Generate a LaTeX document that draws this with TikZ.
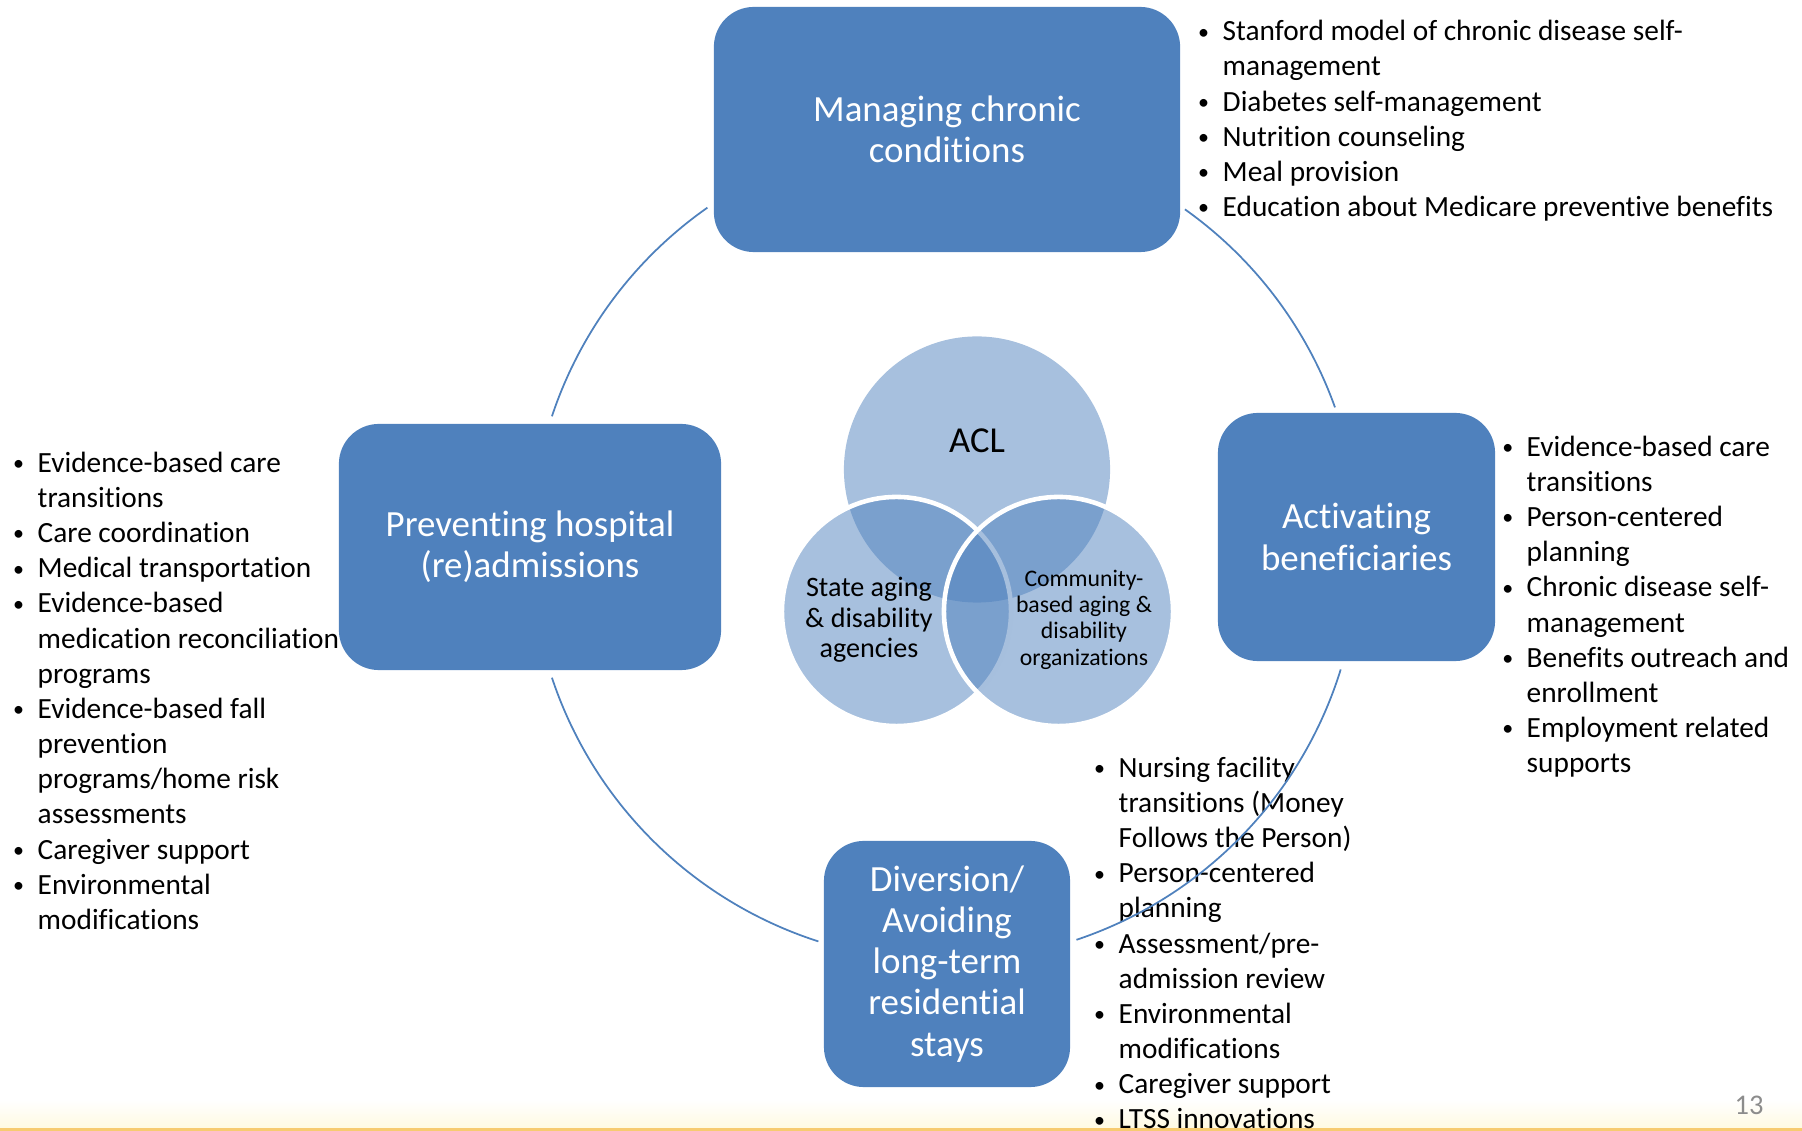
\documentclass[tikz,border=0pt]{standalone}
\usepackage{fontspec}
\setmainfont{Carlito}[Ligatures=NoCommon]
\usepackage{graphicx}
\usepackage{tikz}
\usetikzlibrary{positioning, calc}
\definecolor{aclblue}{RGB}{79,129,189}
\definecolor{pagegray}{RGB}{140,140,140}
\definecolor{footgold}{RGB}{247,203,112}
\definecolor{footpale}{RGB}{255,250,226}
\newcommand{\bl}{\makebox[0.38cm][c]{\raisebox{0.12ex}{\scalebox{0.75}{\textbullet}}}}
\newcommand{\bc}{\hspace*{0.38cm}}

\begin{document}
\begin{tikzpicture}[x=0.01cm, y=-0.01cm,
    box/.style={rectangle, rounded corners=0.4cm, fill=aclblue, text=white, inner sep=0pt,
                align=center, font=\fontsize{10.5}{11.7}\selectfont},
    venn/.style={circle, inner sep=0pt, fill=aclblue, fill opacity=0.5},
    vennrim/.style={venn, draw=white, draw opacity=1, line width=1.3pt},
    blist/.style={anchor=north west, inner sep=0pt, align=left, font=\fontsize{8.34}{10}\selectfont},
    ringline/.style={draw=aclblue, line width=0.5pt}
]
\useasboundingbox (0,0) rectangle (1802,1131);

% Footer strip
\shade[top color=white, bottom color=footpale] (0,1100) rectangle (1802,1128);
\fill[footgold] (0,1128) rectangle (1802,1131);
\node[font=\fontsize{8.1}{9}\selectfont, text=pagegray, anchor=base] (pagenum) at (1749,1115) {13};

% Four program boxes
\node[box, minimum width=4.66cm, minimum height=2.45cm] (chronic) at (947,129.5) {Managing chronic\\conditions};
\node[box, minimum width=3.82cm, minimum height=2.46cm] (hospital) at (530,547) {Preventing hospital\\(re)admissions};
\node[box, minimum width=2.77cm, minimum height=2.48cm] (activate) at (1356.5,537) {Activating\\beneficiaries};
\node[box, minimum width=2.46cm, minimum height=2.46cm] (diversion) at (947,964) {Diversion/\\Avoiding\\long-term\\residential\\stays};

% Venn in the middle
\node[venn, minimum size=2.66cm] (acl) at (977,469.5) {};
\node[vennrim, minimum size=2.29cm] (state) at (896.5,611.5) {};
\node[vennrim, minimum size=2.29cm] (community) at (1058.5,611.5) {};
\node[font=\fontsize{10.4}{11.6}\selectfont] (acltext) at (977,441) {ACL};
\node[align=center, font=\fontsize{8}{8.7}\selectfont] (statetext) at (869,620) {State aging\\\& disability\\agencies};
\node[align=center, font=\fontsize{6.75}{7.5}\selectfont] (commtext) at (1084,619.5) {Community-\\based aging \&\\disability\\organizations};

% Bullet lists
\node[blist] (chroniclist) at (1184,15.4) {\strut\bl Stanford model of chronic disease self-\\
    \bc management\\
    \bl Diabetes self-management\\
    \bl Nutrition counseling\\
    \bl Meal provision\\
    \bl Education about Medicare preventive benefits};

\node[blist] (hospitallist) at (-1,447) {\strut\bl Evidence-based care\\
    \bc transitions\\
    \bl Care coordination\\
    \bl Medical transportation\\
    \bl Evidence-based\\
    \bc medication reconciliation\\
    \bc programs\\
    \bl Evidence-based fall\\
    \bc prevention\\
    \bc programs/home risk\\
    \bc assessments\\
    \bl Caregiver support\\
    \bl Environmental\\
    \bc modifications};

\node[blist] (activatelist) at (1488,431) {\strut\bl Evidence-based care\\
    \bc transitions\\
    \bl Person-centered\\
    \bc planning\\
    \bl Chronic disease self-\\
    \bc management\\
    \bl Benefits outreach and\\
    \bc enrollment\\
    \bl Employment related\\
    \bc supports};

\node[blist] (diversionlist) at (1080,752) {\strut\bl Nursing facility\\
    \bc transitions (Money\\
    \bc Follows the Person)\\
    \bl Person-centered\\
    \bc planning\\
    \bl Assessment/pre-\\
    \bc admission review\\
    \bl Environmental\\
    \bc modifications\\
    \bl Caregiver support\\
    \bl LTSS innovations};

% Ring joining the boxes
\coordinate (ring) at (945,547);
\draw[ringline] ($(ring)+(19.7:4.14cm)$) arc[start angle=19.7, end angle=54.6, radius=4.14cm];
\draw[ringline] ($(ring)+(125:4.14cm)$) arc[start angle=125, end angle=161.6, radius=4.14cm];
\draw[ringline] ($(ring)+(198.4:4.14cm)$) arc[start angle=198.4, end angle=252.2, radius=4.14cm];
\draw[ringline] ($(ring)+(288.5:4.14cm)$) arc[start angle=288.5, end angle=342.8, radius=4.14cm];

\end{tikzpicture}
\end{document}
